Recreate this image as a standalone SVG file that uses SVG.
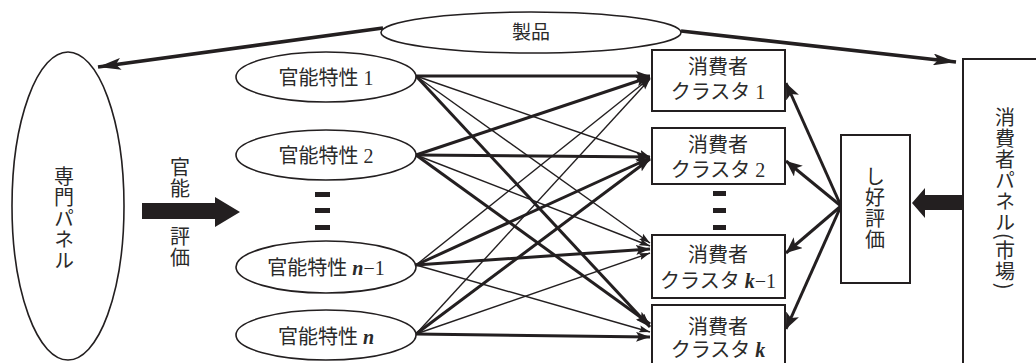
<svg xmlns="http://www.w3.org/2000/svg" width="1036" height="363" viewBox="0 0 1036 363">
<style>
.shape{fill:#fff;stroke:#231f20;stroke-width:1.6}
.box{fill:#fff;stroke:#231f20;stroke-width:2}
.txt{font-family:"Liberation Serif","Noto Sans CJK JP",serif;font-size:20px;fill:#2a2a2a;text-anchor:middle}
.vtxt{font-family:"Noto Sans CJK JP","Liberation Serif",sans-serif;font-size:20px;fill:#2a2a2a;writing-mode:vertical-rl;letter-spacing:1px}
.var{font-style:italic;font-weight:bold}
.thick{stroke:#231f20;stroke-width:3;fill:none;marker-end:url(#ahThick)}
.thin{stroke:#231f20;stroke-width:1.4;fill:none;marker-end:url(#ahThin)}
.big{stroke:#231f20;stroke-width:3.6;fill:none;marker-end:url(#ahBig)}
.pref{stroke:#231f20;stroke-width:3;fill:none;marker-end:url(#ahPref)}
.solid{fill:#231f20}
</style>
<defs>
<marker id="ahBig" markerUnits="userSpaceOnUse" markerWidth="24" markerHeight="12" refX="23" refY="6" orient="auto"><path d="M0,0 L23,6 L0,12 L5,6 z" fill="#231f20"/></marker>
<marker id="ahThick" markerUnits="userSpaceOnUse" markerWidth="15" markerHeight="10" refX="14" refY="5" orient="auto"><path d="M0,0 L14,5 L0,10 L3,5 z" fill="#231f20"/></marker>
<marker id="ahThin" markerUnits="userSpaceOnUse" markerWidth="12" markerHeight="8" refX="11" refY="4" orient="auto"><path d="M0,0.5 L11,4 L0,7.5 L2,4 z" fill="#231f20"/></marker>
<marker id="ahPref" markerUnits="userSpaceOnUse" markerWidth="17" markerHeight="14" refX="16" refY="7" orient="auto"><path d="M0,0 L16,7 L0,14 L4,7 z" fill="#231f20"/></marker>
</defs>

<g id="connectors">
<path class="big" d="M383,28 L98,67"/>
<path class="big" d="M681,31 L956,62"/>
<path class="thick" d="M416,76 L650,76"/>
<path class="thin" d="M416,76 L650,157"/>
<path class="thin" d="M416,76 L650,243"/>
<path class="thick" d="M416,76 L650,327"/>
<path class="thick" d="M416,155 L650,77"/>
<path class="thick" d="M416,155 L650,157"/>
<path class="thin" d="M416,155 L650,246"/>
<path class="thick" d="M416,155 L650,324"/>
<path class="thin" d="M416,265 L650,78"/>
<path class="thick" d="M416,265 L650,158"/>
<path class="thick" d="M416,265 L650,249"/>
<path class="thin" d="M416,265 L650,332"/>
<path class="thin" d="M416,334 L650,79"/>
<path class="thick" d="M416,334 L650,159"/>
<path class="thin" d="M416,334 L650,253"/>
<path class="thick" d="M416,334 L650,337"/>
<path class="pref" d="M841,206 L786,83"/>
<path class="pref" d="M841,206 L786,161"/>
<path class="pref" d="M841,206 L786,253"/>
<path class="pref" d="M841,206 L786,329"/>
<polygon class="solid" points="142,203 215,203 215,197 240,212 215,227 215,219 142,219"/>
<polygon class="solid" points="963,195 925,195 925,188 912,203 925,218 925,210 963,210"/>
</g>

<g id="product">
<ellipse class="shape" cx="531" cy="32.5" rx="150" ry="20.5"/>
<text class="txt" x="531" y="39" style="font-size:19px">製品</text>
</g>

<g id="expert-panel">
<ellipse class="shape" cx="68" cy="206" rx="56" ry="154"/>
<text class="vtxt" x="64" y="166">専門パネル</text>
</g>

<g id="sensory-eval-label">
<text class="vtxt" x="180" y="157">官能</text>
<text class="vtxt" x="180" y="226">評価</text>
</g>

<g id="attr1">
<ellipse class="shape" cx="326" cy="77" rx="90" ry="25"/>
<text class="txt" x="326" y="85">官能特性 1</text>
</g>
<g id="attr2">
<ellipse class="shape" cx="326" cy="155" rx="90" ry="25"/>
<text class="txt" x="326" y="163">官能特性 2</text>
</g>
<g id="attr-dots">
<rect class="solid" x="315" y="192" width="15" height="5"/>
<rect class="solid" x="315" y="208" width="15" height="5"/>
<rect class="solid" x="315" y="225" width="15" height="5"/>
</g>
<g id="attrn1">
<ellipse class="shape" cx="326" cy="267" rx="90" ry="26"/>
<text class="txt" x="326" y="275">官能特性 <tspan class="var">n</tspan>−1</text>
</g>
<g id="attrn">
<ellipse class="shape" cx="326" cy="335" rx="90" ry="25"/>
<text class="txt" x="326" y="344">官能特性 <tspan class="var">n</tspan></text>
</g>

<g id="cluster1">
<rect class="box" x="652" y="50" width="133" height="61"/>
<text class="txt" x="718" y="74">消費者</text>
<text class="txt" x="718" y="99">クラスタ 1</text>
</g>
<g id="cluster2">
<rect class="box" x="652" y="128" width="133" height="56"/>
<text class="txt" x="718" y="152">消費者</text>
<text class="txt" x="718" y="177">クラスタ 2</text>
</g>
<g id="cluster-dots">
<rect class="solid" x="713" y="191" width="13" height="5"/>
<rect class="solid" x="713" y="208" width="13" height="5"/>
<rect class="solid" x="713" y="225" width="13" height="5"/>
</g>
<g id="clusterk1">
<rect class="box" x="652" y="235" width="133" height="63"/>
<text class="txt" x="718" y="262">消費者</text>
<text class="txt" x="718" y="288">クラスタ <tspan class="var">k</tspan>−1</text>
</g>
<g id="clusterk">
<rect class="box" x="652" y="305" width="133" height="70"/>
<text class="txt" x="718" y="334">消費者</text>
<text class="txt" x="718" y="357">クラスタ <tspan class="var">k</tspan></text>
</g>

<g id="preference">
<rect class="box" x="841" y="135" width="69" height="148"/>
<text class="vtxt" x="875" y="166">し好評価</text>
</g>

<g id="consumer-panel">
<rect class="box" x="963" y="59" width="100" height="320"/>
<text class="vtxt" x="1005" y="107">消費者パネル(市場)</text>
</g>
</svg>
